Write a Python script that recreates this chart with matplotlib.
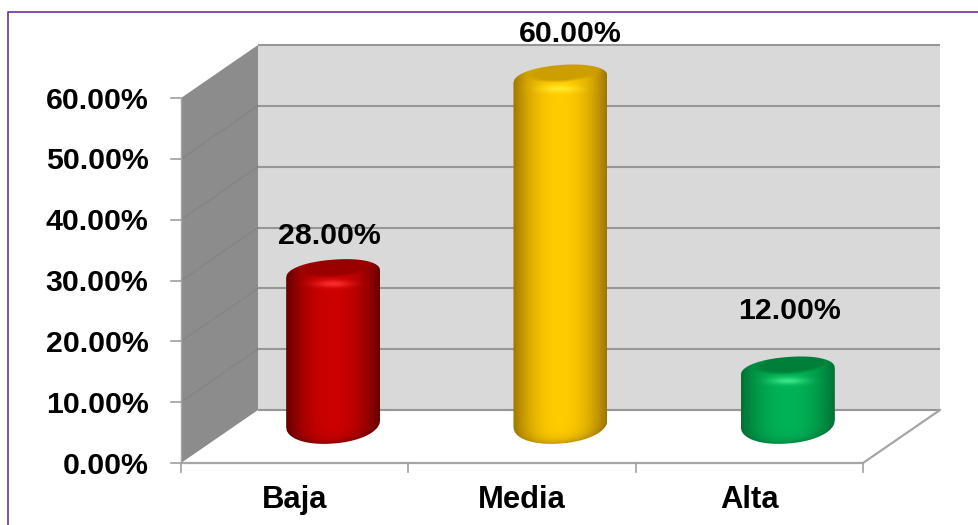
import numpy as np
import matplotlib
matplotlib.use('Agg')
import matplotlib.pyplot as plt
from matplotlib.lines import Line2D
from matplotlib.patches import Polygon

plt.rcParams['font.family'] = ['Liberation Sans', 'DejaVu Sans']

# Data
categories = ['Baja', 'Media', 'Alta']
values = [28.0, 60.0, 12.0]
y_ticks = [0, 10, 20, 30, 40, 50, 60]

# Colours per bar: bright centre, dark edge, top cap, highlight
bright = [(0.80, 0.0, 0.0), (1.0, 0.80, 0.0), (0.0, 0.70, 0.34)]
dark = [(0.40, 0.0, 0.0), (0.62, 0.46, 0.0), (0.0, 0.44, 0.20)]
cap = [(0.60, 0.0, 0.0), (0.80, 0.62, 0.0), (0.0, 0.50, 0.22)]
shine = [(1.0, 0.2, 0.2), (1.0, 0.93, 0.2), (0.25, 0.92, 0.55)]

# Layout (pixels of the 979x525 figure)
W, H = 979, 525
x0_px, y0_px = 181, 463
slot_px = 227.33
unit_px = 6.083
depth_x = 77 / slot_px
depth_y = 53 / unit_px
label_px = [(329, 236), (570, 34), (790, 311)]

fig = plt.figure(figsize=(W / 100, H / 100), dpi=100)
ax = fig.add_axes([0, 0, 1, 1])
ax.set_xlim(-x0_px / slot_px, (W - x0_px) / slot_px)
ax.set_ylim((y0_px - H) / unit_px, y0_px / unit_px)
ax.axis('off')


def px_x(px):
    return (px - x0_px) / slot_px


def px_y(px):
    return (y0_px - px) / unit_px


# walls
ymax = y_ticks[-1]
ax.add_patch(Polygon([(depth_x, depth_y), (3 + depth_x, depth_y), (3 + depth_x, ymax + depth_y), (depth_x, ymax + depth_y)],
                     fc='#d9d9d9', ec='none', zorder=1))
ax.add_patch(Polygon([(0, 0), (depth_x, depth_y), (depth_x, ymax + depth_y), (0, ymax)],
                     fc='#8c8c8c', ec='none', zorder=1))
for t in y_ticks:
    ax.plot([depth_x, 3 + depth_x], [t + depth_y, t + depth_y], color='#979797', lw=1.5, zorder=2, solid_capstyle='butt')
    if 0 < t < ymax:
        ax.plot([0, depth_x], [t, t + depth_y], color='#848484', lw=0.9, zorder=2)
    ax.plot([px_x(171), 0], [t, t], color='#a0a0a0', lw=1.2, zorder=2)
    ax.text(px_x(148.5), t + 0.5 / unit_px, '%.2f%%' % t, ha='right', va='center_baseline', fontsize=21.8, fontweight='bold', color='black', zorder=5)

# floor edges
ax.plot([0, 3, 3 + depth_x], [0, 0, depth_y], color='#a6a6a6', lw=1.6, zorder=2)
ax.plot([0, 0], [0, ymax], color='#a6a6a6', lw=1.0, zorder=2)
for i in range(4):
    ax.plot([i, i], [0, px_y(472)], color='#a0a0a0', lw=1.2, zorder=2)
for i, c in enumerate(categories):
    ax.text(i + 0.5, px_y(500), c, ha='center', va='center', fontsize=22.3, fontweight='bold', color='black', zorder=5)


def arc(u, n):
    return (1 - np.abs(u) ** n) ** (1 / n)


def top_edge(u, v):
    return v + depth_y / 2 + (-8 + 14.5 * arc(u, 2.15) + 3.5 * u) / unit_px


def bottom_edge(u):
    return depth_y / 2 + (13 - 20 * arc(u, 2.1) + 3.5 * u) / unit_px


half_w = 47 / slot_px
for i, v in enumerate(values):
    xc = i + 0.5 + depth_x / 2
    u = np.linspace(-1, 1, 161)
    outline = np.concatenate([
        np.column_stack([xc + half_w * u, top_edge(u, v)]),
        np.column_stack([xc + half_w * u[::-1], bottom_edge(u[::-1])]),
    ])
    ylo, yhi = bottom_edge(u).min(), top_edge(u, v).max()

    # shaded body, worked out on a grid of about two samples per pixel
    ny = int((yhi - ylo) * unit_px * 2) + 2
    nx = 190
    uu, yy = np.meshgrid(np.linspace(-1, 1, nx), np.linspace(ylo, yhi, ny))
    yc = v + depth_y / 2
    b, d, c, s = [np.array(k[i]) for k in (bright, dark, cap, shine)]
    side = np.abs(uu) ** 2.2
    edge_bottom = np.exp(-np.maximum((yy - bottom_edge(uu)) * unit_px, 0) / 4.5)
    mix = np.clip(side + 0.6 * edge_bottom * (1 - side), 0, 1)[..., None]
    rgb = b * (1 - mix) + d * mix
    # inner top ellipse
    ue = (uu - 0.07) / 0.80
    ve = ((yy - yc) * unit_px - 3.5 * uu + 1) / 9.5
    r = np.sqrt(ue ** 2 + ve ** 2)
    inner = np.clip((1.1 - r) / 0.3, 0, 1)[..., None]
    rgb = rgb * (1 - inner) + c * inner
    # highlight on the front of the rim
    glow = 0.9 * np.exp(-(uu / 0.38) ** 2 - (((yy - yc) * unit_px + 17.5) / 3.5) ** 2)[..., None]
    rgb = rgb * (1 - glow) + s * glow
    im = ax.imshow(np.clip(rgb, 0, 1), origin='lower', aspect='auto', interpolation='bilinear',
                   extent=(xc - half_w, xc + half_w, ylo, yhi), zorder=3)
    clip = Polygon(outline, transform=ax.transData, fc='none', ec='none')
    ax.add_patch(clip)
    im.set_clip_path(clip)
    ax.text(px_x(label_px[i][0]), px_y(label_px[i][1]), '%.2f%%' % v, ha='center', va='center',
            fontsize=21.8, fontweight='bold', color='black', zorder=5)

ax.set_xlim(-x0_px / slot_px, (W - x0_px) / slot_px)
ax.set_ylim((y0_px - H) / unit_px, y0_px / unit_px)

# purple slide frame, top and left only
frame_x = 8.5 / W
frame_y = 1 - 11.5 / H
fig.add_artist(Line2D([frame_x, frame_x, 1], [0, frame_y, frame_y], color='#7030a0', lw=1.2, transform=fig.transFigure))

fig.savefig('out.png', dpi=100)
